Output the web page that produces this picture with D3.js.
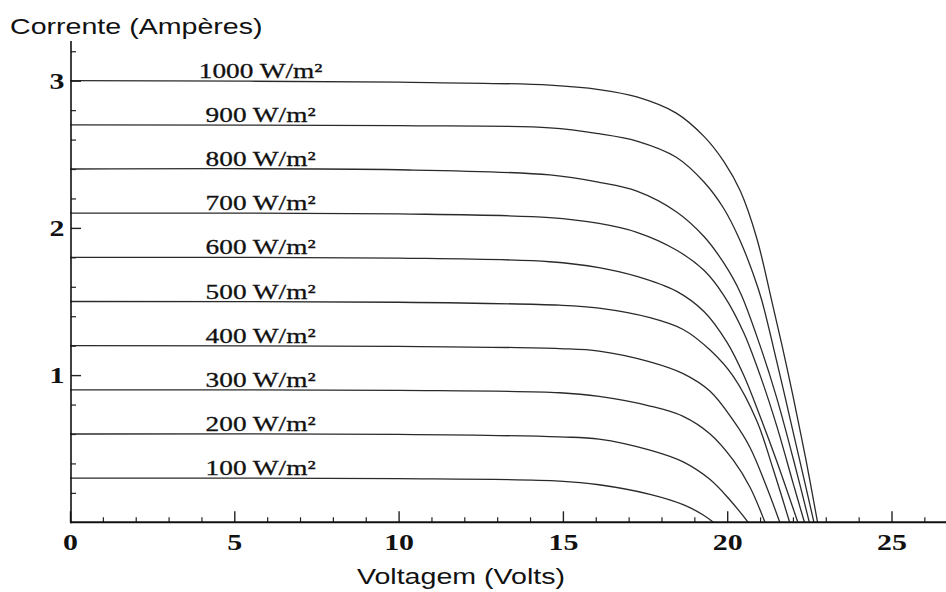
<!DOCTYPE html>
<html>
<head>
<meta charset="utf-8">
<script src="https://cdnjs.cloudflare.com/ajax/libs/d3/7.8.5/d3.min.js"></script>
<style>
  html, body { margin: 0; padding: 0; background: #fff; }
  svg { display: block; }
</style>
</head>
<body>
<svg id="chart" width="946" height="592"></svg>
<script>
// ---- Data ----
const irradiances = [1000, 900, 800, 700, 600, 500, 400, 300, 200, 100];
const seriesLabels = ["1000 W/m²", "900 W/m²", "800 W/m²", "700 W/m²", "600 W/m²",
                      "500 W/m²", "400 W/m²", "300 W/m²", "200 W/m²", "100 W/m²"];
const shortCircuitCurrent = [3.0, 2.7, 2.4, 2.1, 1.8, 1.5, 1.2, 0.9, 0.6, 0.3];

// [Voltage (V), Current (A)] points per curve
const curve1000 = [[0,3.0],[10,2.99],[14.6,2.97],[16.1,2.94],[17.25,2.89],[18.45,2.78],[19.3,2.62],[19.9,2.45],[20.4,2.25],[20.9,1.93],[21.35,1.51],[21.7,1.17],[22.0,0.86],[22.4,0.42],[22.75,0]];
const curve900  = [[0,2.7],[10,2.695],[14.6,2.68],[16.1,2.64],[17.25,2.59],[18.45,2.48],[19.3,2.31],[19.9,2.13],[20.4,1.91],[20.85,1.65],[21.05,1.51],[21.5,1.10],[22.0,0.62],[22.3,0.33],[22.64,0]];
const curve800  = [[0,2.4],[10,2.395],[14.6,2.36],[16.1,2.31],[17.25,2.25],[18.45,2.11],[19.3,1.94],[19.9,1.76],[20.4,1.56],[21.0,1.20],[21.5,0.85],[22.0,0.44],[22.5,0]];
const curve700  = [[0,2.1],[10,2.095],[14.6,2.07],[16.1,2.03],[17.25,1.97],[18.45,1.85],[19.3,1.71],[19.9,1.54],[20.5,1.29],[21.0,1.00],[21.5,0.66],[22.0,0.27],[22.35,0]];
const curve600  = [[0,1.8],[10,1.795],[14.6,1.77],[16.1,1.73],[17.25,1.67],[18.45,1.57],[19.3,1.43],[20.0,1.22],[20.5,1.00],[21.0,0.72],[21.5,0.42],[22.15,0]];
const curve500  = [[0,1.5],[10,1.495],[14.9,1.475],[16.1,1.455],[17.65,1.39],[18.66,1.31],[19.48,1.17],[20.19,0.99],[20.9,0.69],[21.4,0.36],[21.9,0]];
const curve400  = [[0,1.2],[10,1.195],[14.9,1.18],[16.1,1.163],[17.65,1.09],[18.66,1.01],[19.48,0.89],[20.19,0.69],[20.69,0.51],[21.2,0.24],[21.6,0]];
const curve300  = [[0,0.9],[10,0.896],[14.9,0.88],[16.1,0.855],[17.65,0.79],[18.66,0.72],[19.48,0.60],[20.19,0.42],[20.69,0.24],[21.15,0]];
const curve200  = [[0,0.6],[10,0.597],[14.9,0.58],[16.1,0.565],[17.65,0.49],[18.66,0.41],[19.48,0.29],[20.09,0.15],[20.64,0]];
const curve100  = [[0,0.3],[10,0.297],[14.9,0.28],[16.1,0.255],[17.65,0.19],[18.66,0.12],[19.27,0.05],[19.58,0]];
const curves = [curve1000, curve900, curve800, curve700, curve600, curve500, curve400, curve300, curve200, curve100];

const xMajorTicks = [0, 5, 10, 15, 20, 25];
const xMinorTicks = [1,2,3,4,6,7,8,9,11,12,13,14,16,17,18,19,21,22,23,24,26];
const yMajorTicks = [1, 2, 3];
const yMinorTicks = [0.2,0.4,0.6,0.8,1.2,1.4,1.6,1.8,2.2,2.4,2.6,2.8,3.2];

const xTitle = "Voltagem (Volts)";
const yTitle = "Corrente (Ampères)";

// ---- Layout ----
const svg = d3.select("#chart");
const x = d3.scaleLinear().domain([0, 25]).range([70, 891.5]);
const y = d3.scaleLinear().domain([0, 3]).range([522.3, 80.7]);
const xMax = 26.7, yMax = 3.27;
const stretch = 1.3;
const serif = "'Liberation Serif', 'Times New Roman', serif";
const sans = "'Liberation Sans', Arial, sans-serif";

// Curves
const line = d3.line().x(d => x(d[0])).y(d => y(d[1])).curve(d3.curveCatmullRom.alpha(0.5));
svg.append("g").selectAll("path").data(curves).join("path")
  .attr("d", line)
  .attr("fill", "none")
  .attr("stroke", "#2a2a2a")
  .attr("stroke-width", 1.3);

// Axes: minor ticks
const xMinorAxis = d3.axisBottom(x).tickValues(xMinorTicks).tickSize(-5).tickSizeOuter(0).tickFormat("");
const yMinorAxis = d3.axisLeft(y).tickValues(yMinorTicks).tickSize(-5).tickSizeOuter(0).tickFormat("");
const gxm = svg.append("g").attr("transform", `translate(0,${y(0)})`).call(xMinorAxis);
const gym = svg.append("g").attr("transform", `translate(${x(0) + 1},0)`).call(yMinorAxis);
[gxm, gym].forEach(g => { g.select(".domain").remove(); g.selectAll("line").attr("stroke", "#222").attr("stroke-width", 1.2); });

// Major ticks + labels
const xAxis = d3.axisBottom(x).tickValues(xMajorTicks).tickSize(-11).tickSizeOuter(0).tickPadding(11).tickFormat(d3.format("d"));
const yAxis = d3.axisLeft(y).tickValues(yMajorTicks).tickSize(-10).tickSizeOuter(0).tickPadding(5).tickFormat(d3.format("d"));
const gx = svg.append("g").attr("transform", `translate(0,${y(0)})`).call(xAxis);
const gy = svg.append("g").attr("transform", `translate(${x(0) + 1},0)`).call(yAxis);
[gx, gy].forEach(g => {
  g.select(".domain").remove();
  g.selectAll("line").attr("stroke", "#222").attr("stroke-width", 1.4);
  g.selectAll("text")
    .attr("fill", "#111")
    .style("font-family", serif)
    .style("font-size", "23px")
    .style("font-weight", "bold")
    .attr("transform", `scale(${stretch},1)`);
});

// Axis lines
svg.append("line")
  .attr("x1", x(0)).attr("x2", x(xMax)).attr("y1", y(0)).attr("y2", y(0))
  .attr("stroke", "#111").attr("stroke-width", 2);
svg.append("line")
  .attr("x1", x(0) + 1).attr("x2", x(0) + 1).attr("y1", y(0) + 1).attr("y2", y(yMax))
  .attr("stroke", "#111").attr("stroke-width", 1.6);

// Series labels
svg.append("g").selectAll("text").data(seriesLabels).join("text")
  .attr("transform", (d, i) => `translate(${x(5.8)},${y(shortCircuitCurrent[i]) - 3}) scale(${stretch},1)`)
  .attr("text-anchor", "middle")
  .style("font-family", serif)
  .style("font-size", "21px")
  .attr("fill", "#111")
  .attr("stroke", "#111")
  .attr("stroke-width", 0.3)
  .text(d => d);

// Axis titles
svg.append("text")
  .attr("transform", `translate(10,34) scale(${stretch},1)`)
  .style("font-family", sans).style("font-size", "22px").attr("fill", "#111")
  .text(yTitle);
svg.append("text")
  .attr("transform", `translate(461,584) scale(${stretch},1)`)
  .attr("text-anchor", "middle")
  .style("font-family", sans).style("font-size", "22px").attr("fill", "#111")
  .text(xTitle);
</script>
</body>
</html>
